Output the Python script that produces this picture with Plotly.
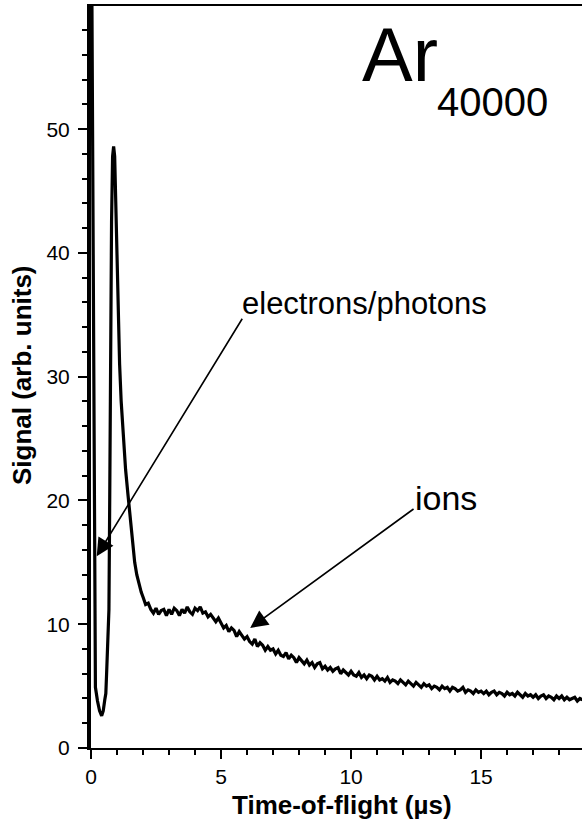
import plotly.graph_objects as go

# ---- data ----
# fast part: electron/photon spike, dip, ion peak and its decay
head_t = [0.00, 0.03, 0.07, 0.10, 0.12, 0.13, 0.14, 0.17, 0.25, 0.33, 0.41, 0.47, 0.53,
          0.57, 0.60, 0.64, 0.69, 0.72, 0.74, 0.76, 0.79, 0.83, 0.87, 0.91, 0.95, 0.99,
          1.02, 1.06, 1.10, 1.16, 1.24, 1.33, 1.42, 1.52, 1.60, 1.68, 1.76, 1.85, 1.93]
head_s = [75.0, 60.0, 46.0, 30.0, 16.0, 10.0, 6.0, 4.9, 3.8, 3.0, 2.6, 3.0, 3.9,
          4.4, 6.0, 8.5, 11.2, 20.0, 30.0, 36.5, 42.5, 47.8, 48.6, 47.8, 44.0, 40.5,
          37.0, 34.0, 31.0, 28.0, 25.0, 22.5, 20.5, 18.3, 16.5, 15.0, 14.0, 13.2, 12.6]

# slow part: sampled every 0.1 us from 2.0 us
tail_start = 2.0
tail_step = 0.1
tail_s = [
    12.2, 11.6, 11.7, 11.2, 10.9, 11.3, 10.8, 11.1, 11.2, 10.7,
    11.2, 10.8, 11.3, 11.1, 10.7, 11.2, 10.9, 11.4, 11.0, 10.8,
    11.3, 11.1, 11.4, 10.9, 11.0, 10.6, 10.8, 10.5, 10.2, 10.5,
    10.1, 9.7, 9.9, 9.4, 9.7, 9.5, 9.0, 9.4, 9.1, 8.8,
    9.0, 8.6, 8.4, 8.8, 8.2, 8.5, 8.3, 7.9, 8.2, 7.9,
    8.0, 7.6, 7.9, 7.5, 7.4, 7.7, 7.2, 7.5, 7.3, 6.9,
    7.3, 7.0, 6.8, 7.1, 6.7, 6.9, 6.5, 6.8, 6.9, 6.4,
    6.6, 6.3, 6.5, 6.2, 6.4, 6.5, 6.0, 6.3, 6.1, 5.9,
    6.2, 5.9, 5.8, 6.1, 5.7, 5.9, 5.6, 5.9, 5.8, 5.5,
    5.8, 5.5, 5.6, 5.4, 5.7, 5.3, 5.5, 5.4, 5.2, 5.5,
    5.3, 5.1, 5.4, 5.2, 5.0, 5.3, 5.1, 4.9, 5.2, 5.0,
    5.1, 4.8, 5.0, 4.9, 4.7, 5.0, 4.8, 4.9, 4.6, 4.9,
    4.8, 4.6, 4.7, 4.9, 4.5, 4.7, 4.6, 4.4, 4.7, 4.5,
    4.6, 4.4, 4.6, 4.3, 4.5, 4.6, 4.3, 4.5, 4.4, 4.2,
    4.5, 4.3, 4.4, 4.2, 4.5, 4.3, 4.1, 4.4, 4.2, 4.3,
    4.1, 4.3, 4.0, 4.2, 4.3, 4.0, 4.2, 4.1, 3.9, 4.2,
    4.0, 4.2, 3.9, 4.1, 3.9, 4.0, 4.1, 3.8, 4.0, 3.9,
]
tail_t = [round(tail_start + i * tail_step, 2) for i in range(len(tail_s))]

time_us = head_t + tail_t
signal = head_s + tail_s

x_range = [0, 18.88]
y_range = [0, 59.95]
x_ticks = [0, 5, 10, 15]
y_ticks = [0, 10, 20, 30, 40, 50]

# annotation arrows (tip, tail) in data units
arrow_e = dict(tip=(0.22, 15.5), tail=(5.85, 34.8))
arrow_i = dict(tip=(6.12, 9.7), tail=(12.46, 19.4))

FONT = "Liberation Sans, Arial, sans-serif"

fig = go.Figure()
fig.add_trace(go.Scatter(x=time_us, y=signal, mode="lines",
                         line=dict(color="black", width=3.2), hoverinfo="skip"))

axis_common = dict(showgrid=False, zeroline=False, showline=True, linecolor="black",
                   ticks="outside", tickcolor="black", tickwidth=2, ticklen=9,
                   tickfont=dict(family=FONT, size=21, color="black"))

fig.update_xaxes(range=x_range, tickvals=x_ticks, linewidth=2, mirror=True,
                 minor=dict(dtick=1, ticks="outside", ticklen=5, tickwidth=2, tickcolor="black"),
                 **axis_common)
fig.update_yaxes(range=y_range, tickvals=y_ticks, linewidth=4, mirror=False,
                 minor=dict(dtick=2, ticks="outside", ticklen=5, tickwidth=2, tickcolor="black"),
                 ticklabelstandoff=4,
                 **axis_common)

anns = []
for a in (arrow_e, arrow_i):
    anns.append(dict(x=a["tip"][0], y=a["tip"][1], ax=a["tail"][0], ay=a["tail"][1],
                     xref="x", yref="y", axref="x", ayref="y", text="", showarrow=True,
                     arrowhead=2, arrowsize=2.2, arrowwidth=1.6, arrowcolor="black"))

anns += [
    dict(x=5.72, y=35.9, xref="x", yref="y", text="electrons/photons", showarrow=False,
         xanchor="left", yanchor="middle", font=dict(family=FONT, size=31, color="black")),
    dict(x=12.38, y=20.2, xref="x", yref="y", text="ions", showarrow=False,
         xanchor="left", yanchor="middle", font=dict(family=FONT, size=34, color="black")),
    dict(x=0.548, y=0.935, xref="paper", yref="paper", text="Ar", showarrow=False,
         xanchor="left", yanchor="middle", font=dict(family=FONT, size=76, color="black")),
    dict(x=0.700, y=0.870, xref="paper", yref="paper", text="40000", showarrow=False,
         xanchor="left", yanchor="middle", font=dict(family=FONT, size=40, color="black")),
    dict(x=0.511, y=-0.077, xref="paper", yref="paper", text="<b>Time-of-flight (µs)</b>",
         showarrow=False, xanchor="center", yanchor="middle",
         font=dict(family=FONT, size=26, color="black")),
    dict(x=-0.14, y=0.503, xref="paper", yref="paper", text="<b>Signal (arb. units)</b>",
         showarrow=False, xanchor="center", yanchor="middle", textangle=-90,
         font=dict(family=FONT, size=26, color="black")),
]

fig.update_layout(width=582, height=825, margin=dict(l=91, r=0, t=6, b=77),
                  paper_bgcolor="white", plot_bgcolor="white", showlegend=False,
                  annotations=anns)

fig.write_html("out.html", include_plotlyjs=True, config={"displayModeBar": False})
